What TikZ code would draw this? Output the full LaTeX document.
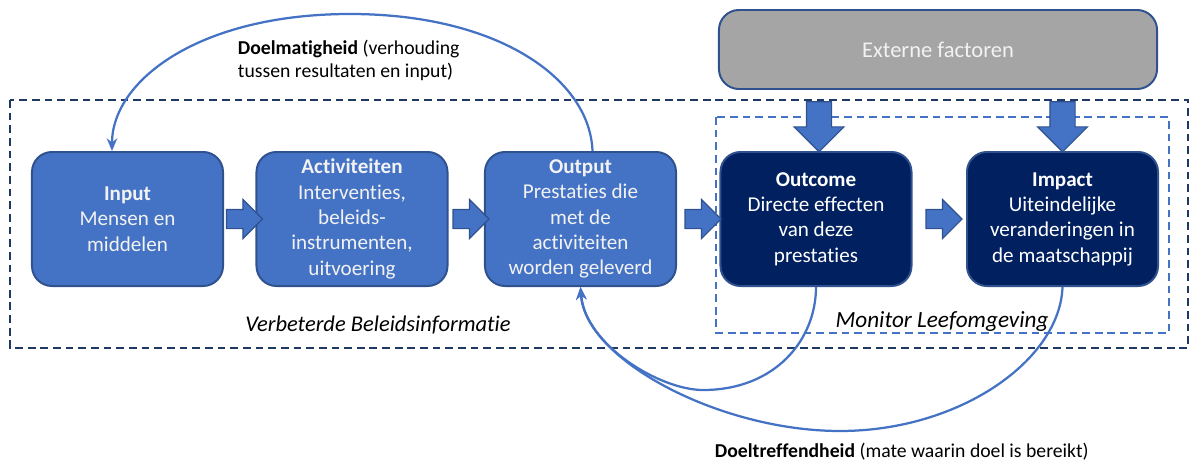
\documentclass[tikz,border=0pt]{standalone}
\usepackage{fontspec}
\setmainfont{Carlito}[Ligatures={NoCommon,NoContextual},RawFeature={-liga;-clig;-dlig}]
\usepackage{xcolor}
\usetikzlibrary{arrows.meta,calc,shapes.arrows}

\definecolor{midblue}{HTML}{4472C4}
\definecolor{edgeblue}{HTML}{2F528F}
\definecolor{darkblue}{HTML}{002060}
\definecolor{navy}{HTML}{1F3864}
\definecolor{softwhite}{HTML}{F2F2F2}
\definecolor{greybox}{HTML}{A5A5A5}

\begin{document}
\begin{tikzpicture}[x=0.025cm,y=-0.025cm,
    box/.style={rectangle,rounded corners=0.5cm,draw=edgeblue,line width=1.4pt,fill=midblue,
        text=softwhite,align=center,minimum width=4.775cm,minimum height=3.35cm,inner sep=2pt,
        font=\fontsize{15}{18}\selectfont},
    darkbox/.style={box,fill=darkblue,text=white},
    harrow/.style={single arrow,draw=edgeblue,line width=0.8pt,fill=midblue,inner sep=0.225cm,
        minimum height=0.9cm,single arrow head extend=0.25cm},
    varrow/.style={harrow,shape border rotate=270,inner sep=0.3cm,minimum height=1.25cm,
        single arrow head extend=0.31cm},
    loopline/.style={draw=midblue,line width=1.6pt,-{Stealth[length=9pt,width=7.5pt]}},
    lbl/.style={font=\fontsize{14}{16.5}\selectfont,align=left}]

    \useasboundingbox (0,0) rectangle (1192,461);

    % The frames
    \draw[navy,line width=1.8pt,dash pattern=on 5.5pt off 3.5pt] (10,100) rectangle (1188,348);
    \draw[midblue,line width=1.4pt,dash pattern=on 5.5pt off 3.5pt] (716,117) rectangle (1169,333);
    \node[font=\fontsize{16}{19}\selectfont\itshape] (verbeterd) at (378,325) {Verbeterde Beleidsinformatie};
    \node[font=\fontsize{16.5}{19}\selectfont\itshape] (monitor) at (942,322) {Monitor Leefomgeving};

    % The chain
    \node [box] at (127.5,219) (input) {\textbf{Input}\\Mensen en\\middelen};
    \node [box] at (352,219) (activ) {\textbf{Activiteiten}\\Interventies,\\beleids-\\instrumenten,\\uitvoering};
    \node [box] at (580.5,219) (output) {\textbf{Output}\\Prestaties die\\met de\\activiteiten\\worden geleverd};
    \node [darkbox] at (816,219) (outcome) {\textbf{Outcome}\\Directe effecten\\van deze\\prestaties};
    \node [darkbox] at (1062.5,219) (impact) {\textbf{Impact}\\Uiteindelijke\\veranderingen in\\de maatschappij};

    \node [box,fill=greybox,minimum width=10.95cm,minimum height=1.975cm,
        font=\fontsize{16}{19}\selectfont] at (938,49.5) (extern) {Externe factoren};

    % Block arrows
    \node [harrow] (a1) at ($(input.east)!0.5!(activ.west)$) {};
    \node [harrow] (a2) at ($(activ.east)!0.5!(output.west)$) {};
    \node [harrow] (a3) at ($(output.east)!0.5!(outcome.west)$) {};
    \node [harrow] (a4) at ($(outcome.east)!0.5!(impact.west)$) {};
    \node [varrow] (d1) at ($(outcome.north)!0.5!(outcome.north |- extern.south)+(3,0)$) {};
    \node [varrow] (d2) at ($(impact.north)!0.5!(impact.north |- extern.south)$) {};

    % Feedback loops
    \draw[loopline] ($(output.north)+(12,0)$) .. controls (590,80) and (500,14) .. (350,14)
        .. controls (200,14) and (112,80) .. ($(input.north)+(-15.5,0)$);
    \node [lbl,anchor=west] (doelmatig) at (233,60) {\textbf{Doelmatigheid} (verhouding\\tussen resultaten en input)};

    \draw[loopline] (outcome.south) .. controls (816,340) and (775,390) .. (703,390)
        .. controls (660,390) and (585,345) .. (output.south);
    \draw[loopline] (impact.south) .. controls (1060,360) and (960,431) .. (840,431)
        .. controls (720,431) and (585,360) .. (output.south);
    \node [lbl,anchor=west] (doeltref) at (710,452) {\textbf{Doeltreffendheid} (mate waarin doel is bereikt)};

\end{tikzpicture}
\end{document}
